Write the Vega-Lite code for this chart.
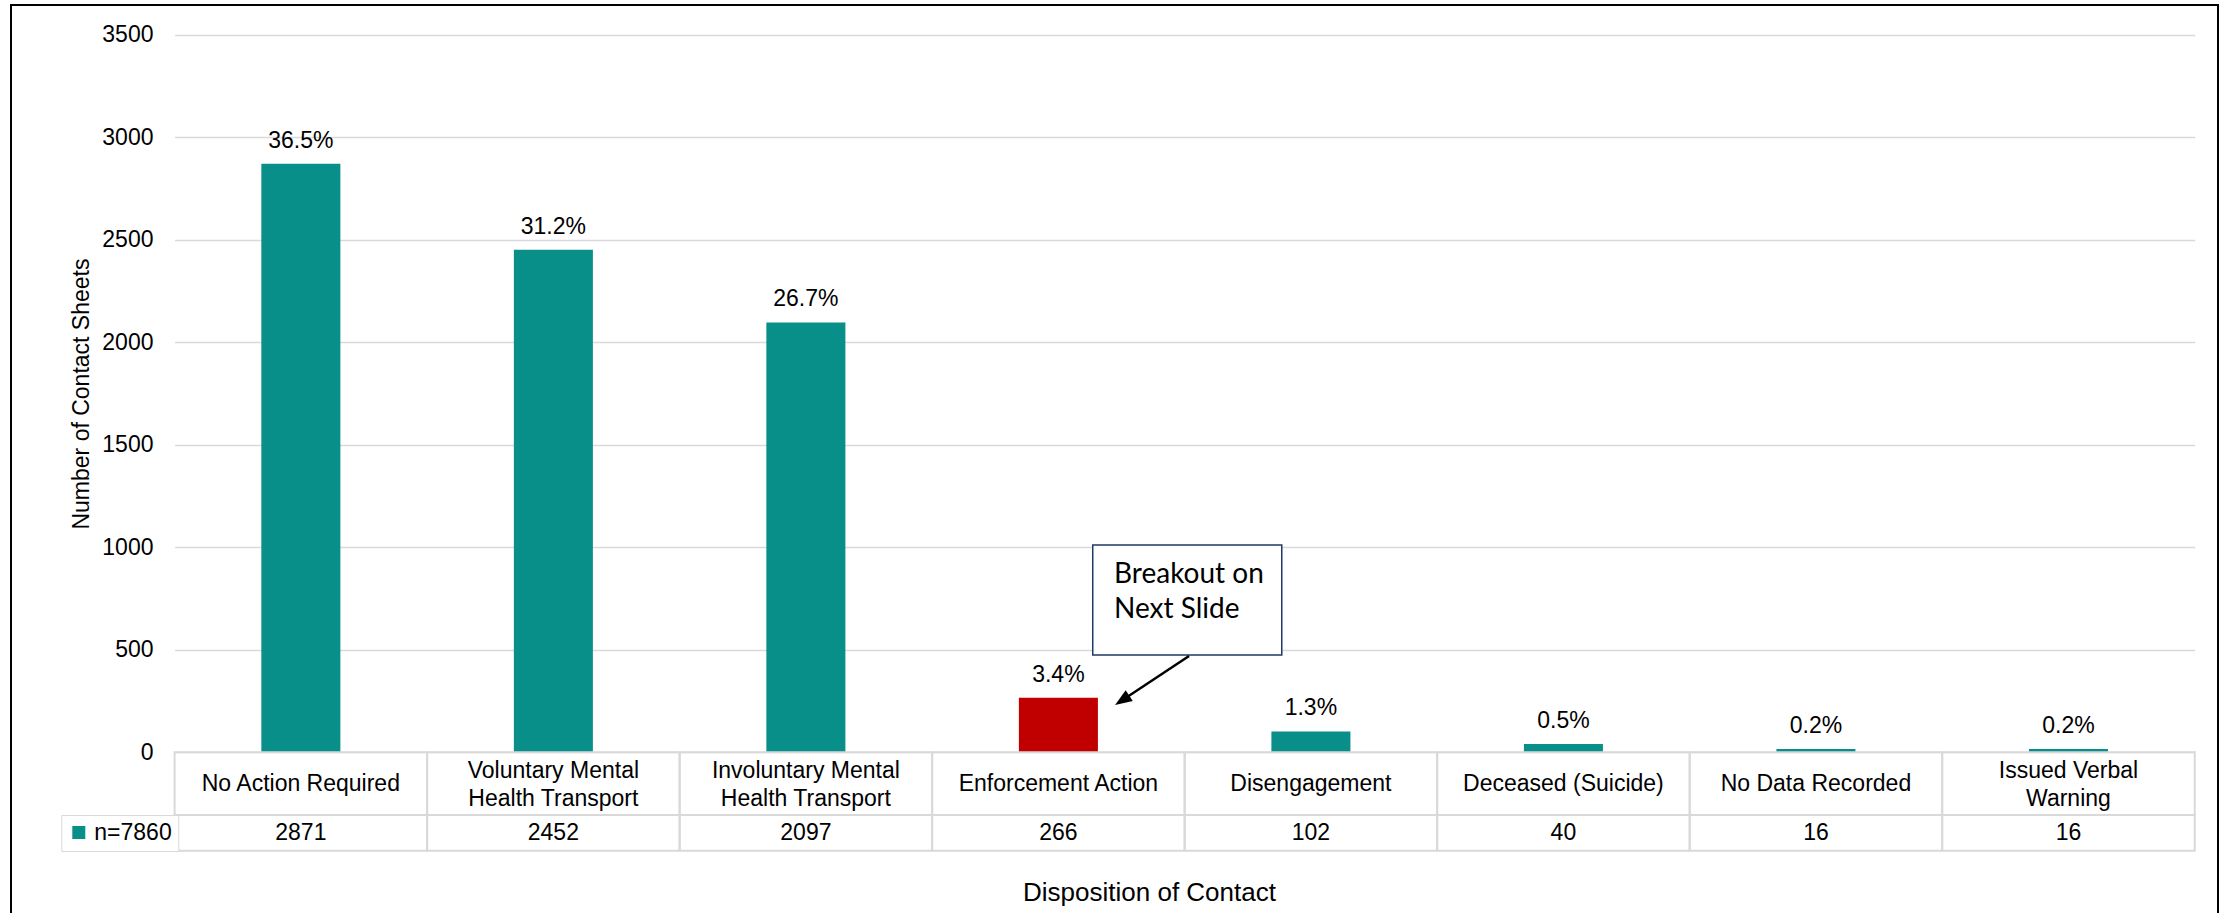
{
  "$schema": "https://vega.github.io/schema/vega-lite/v6.json",
  "width": 2207,
  "height": 910,
  "autosize": {"type": "none"},
  "padding": {"left": 11, "top": 5, "right": 13, "bottom": -2},
  "background": "#ffffff",
  "config": {
    "view": {"stroke": "#000000", "strokeWidth": 2},
    "font": "Liberation Sans"
  },
  "data": {
    "values": [
      {"category": "No Action Required", "label": "No Action Required", "count": 2871, "share": 0.365, "series": "n=7860"},
      {"category": "Voluntary Mental Health Transport", "label": "Voluntary Mental\nHealth Transport", "count": 2452, "share": 0.312, "series": "n=7860"},
      {"category": "Involuntary Mental Health Transport", "label": "Involuntary Mental\nHealth Transport", "count": 2097, "share": 0.267, "series": "n=7860"},
      {"category": "Enforcement Action", "label": "Enforcement Action", "count": 266, "share": 0.034, "series": "n=7860"},
      {"category": "Disengagement", "label": "Disengagement", "count": 102, "share": 0.013, "series": "n=7860"},
      {"category": "Deceased (Suicide)", "label": "Deceased (Suicide)", "count": 40, "share": 0.005, "series": "n=7860"},
      {"category": "No Data Recorded", "label": "No Data Recorded", "count": 16, "share": 0.002, "series": "n=7860"},
      {"category": "Issued Verbal Warning", "label": "Issued Verbal\nWarning", "count": 16, "share": 0.002, "series": "n=7860"}
    ]
  },
  "layer": [
    {
      "mark": {"type": "bar", "width": {"band": 0.313}},
      "encoding": {
        "x": {
          "field": "category", "type": "nominal", "sort": null,
          "scale": {
            "type": "band",
            "domain": ["No Action Required", "Voluntary Mental Health Transport", "Involuntary Mental Health Transport", "Enforcement Action", "Disengagement", "Deceased (Suicide)", "No Data Recorded", "Issued Verbal Warning"],
            "range": [163.6, 2183.7], "paddingInner": 0, "paddingOuter": 0
          },
          "axis": {
            "title": "Disposition of Contact", "labels": false, "ticks": false, "domain": false, "grid": false,
            "titleFontSize": 26, "titleFontWeight": "normal", "titleColor": "#000000",
            "titleX": 1138, "titleY": -23, "titleBaseline": "middle", "titleAlign": "center"
          }
        },
        "y": {
          "field": "count", "type": "quantitative",
          "scale": {"domain": [0, 3500], "range": [747.3, 29.8], "nice": false, "zero": true},
          "axis": {
            "title": "Number of Contact Sheets",
            "values": [0, 500, 1000, 1500, 2000, 2500, 3000, 3500], "format": "d",
            "domain": false, "ticks": false, "tickSize": 0, "labelPadding": 0, "offset": -142,
            "labelFontSize": 23, "labelColor": "#000000",
            "titleFontSize": 23, "titleFontWeight": "normal", "titleColor": "#000000", "titlePadding": 8,
            "grid": true, "gridColor": "#D9D9D9", "gridWidth": 1.5
          }
        },
        "color": {
          "condition": {"test": "datum.category === 'Enforcement Action'", "value": "#C00000"},
          "field": "series", "type": "nominal",
          "scale": {"range": ["#088F8A"]},
          "legend": {
            "title": null, "orient": "none", "legendX": 50.3, "legendY": 810,
            "symbolType": "square", "symbolSize": 169, "symbolStrokeWidth": 0,
            "labelFontSize": 23, "labelColor": "#000000", "labelOffset": 4,
            "padding": 6, "strokeColor": "#D9D9D9", "fillColor": "#ffffff"
          }
        }
      }
    },
    {
      "mark": {"type": "text", "dy": -16, "baseline": "alphabetic", "fontSize": 23, "color": "#000000"},
      "encoding": {
        "x": {"field": "category", "type": "nominal"},
        "y": {"field": "count", "type": "quantitative"},
        "text": {"field": "share", "type": "quantitative", "format": ".1%"}
      }
    },
    {
      "mark": {"type": "rect", "fill": "#ffffff", "fillOpacity": 0, "stroke": "#D9D9D9", "strokeWidth": 2},
      "encoding": {
        "x": {"field": "category", "type": "nominal"},
        "y": {"datum": 0},
        "y2": {"datum": -305.9}
      }
    },
    {
      "mark": {"type": "rect", "fill": "#ffffff", "fillOpacity": 0, "stroke": "#D9D9D9", "strokeWidth": 2},
      "encoding": {
        "x": {"field": "category", "type": "nominal"},
        "y": {"datum": -305.9},
        "y2": {"datum": -480}
      }
    },
    {
      "transform": [{"filter": "indexof(datum.label, '\\n') < 0"}],
      "mark": {"type": "text", "baseline": "middle", "fontSize": 23, "color": "#000000"},
      "encoding": {
        "x": {"field": "category", "type": "nominal"},
        "y": {"datum": -154.6},
        "text": {"field": "label"}
      }
    },
    {
      "transform": [{"filter": "indexof(datum.label, '\\n') >= 0"}],
      "mark": {"type": "text", "lineBreak": "\n", "lineHeight": 28, "baseline": "middle", "fontSize": 23, "color": "#000000"},
      "encoding": {
        "x": {"field": "category", "type": "nominal"},
        "y": {"datum": -88.8},
        "text": {"field": "label"}
      }
    },
    {
      "mark": {"type": "text", "baseline": "middle", "fontSize": 23, "color": "#000000"},
      "encoding": {
        "x": {"field": "category", "type": "nominal"},
        "y": {"datum": -393.7},
        "text": {"field": "count", "type": "quantitative"}
      }
    },
    {
      "data": {"values": [{"note": "Breakout on\nNext Slide"}]},
      "mark": {"type": "rect", "fill": "#ffffff", "stroke": "#203864", "strokeWidth": 1.5},
      "encoding": {
        "x": {"datum": "Enforcement Action", "type": "nominal", "bandPosition": 0.636},
        "x2": {"datum": "Disengagement", "bandPosition": 0.3846},
        "y": {"datum": 1011.2},
        "y2": {"datum": 474.6}
      }
    },
    {
      "data": {"values": [{"note": "Breakout on\nNext Slide"}]},
      "mark": {"type": "text", "align": "left", "baseline": "alphabetic", "font": "Lato", "fontSize": 28, "lineBreak": "\n", "lineHeight": 35, "color": "#000000"},
      "encoding": {
        "x": {"datum": "Enforcement Action", "type": "nominal", "bandPosition": 0.7204},
        "y": {"datum": 825.9},
        "text": {"field": "note"}
      }
    },
    {
      "data": {"values": [{"note": "Breakout on\nNext Slide"}]},
      "mark": {"type": "rule", "color": "#000000", "strokeWidth": 2.5},
      "encoding": {
        "x": {"datum": "Disengagement", "type": "nominal", "bandPosition": 0.0174},
        "x2": {"datum": "Enforcement Action", "bandPosition": 0.7707},
        "y": {"datum": 469.8},
        "y2": {"datum": 268.3}
      }
    },
    {
      "data": {"values": [{"note": "Breakout on\nNext Slide"}]},
      "mark": {"type": "point", "shape": "M0,0L0.38,1L-0.38,1Z", "size": 1156, "angle": 236.5, "filled": true, "color": "#000000", "opacity": 1, "strokeWidth": 0},
      "encoding": {
        "x": {"datum": "Enforcement Action", "type": "nominal", "bandPosition": 0.7244},
        "y": {"datum": 230.7}
      }
    }
  ]
}
